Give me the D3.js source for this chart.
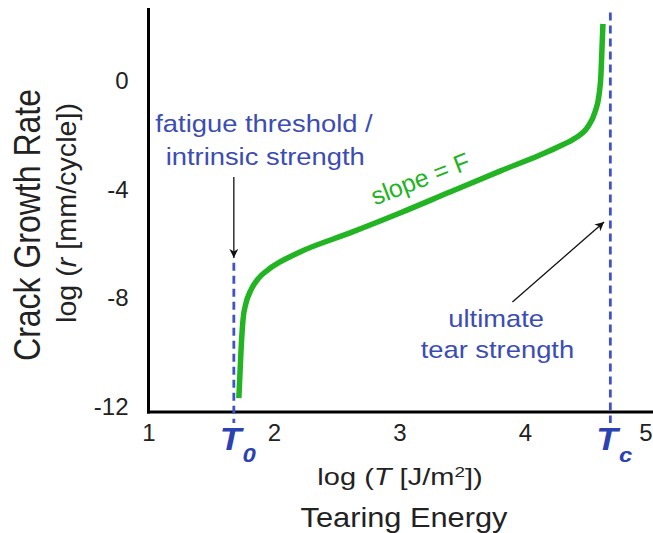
<!DOCTYPE html>
<html>
<head>
<meta charset="utf-8">
<script src="https://cdn.jsdelivr.net/npm/d3@7"></script>
<style>
  html, body { margin: 0; padding: 0; background: #fff; }
  svg { display: block; font-family: "Liberation Sans", Arial, sans-serif; }
</style>
</head>
<body>
<div id="chart"></div>
<script>
'use strict';

// tick values
var xTicks = [1, 2, 3, 4, 5];
var yTicks = [0, -4, -8, -12];

// crack growth curve (log T, log r)
var curveT = [1.720, 1.728, 1.737, 1.753, 1.777, 1.809, 1.873, 1.952, 2.048, 2.207, 2.606, 3.004, 3.402, 3.801,
              4.120, 4.279, 4.398, 4.494, 4.558, 4.590, 4.605, 4.613, 4.621];
var curveR = [-11.67, -10.85, -9.95, -8.80, -8.18, -7.77, -7.29, -6.96, -6.67, -6.30, -5.60, -4.87, -4.10, -3.33,
              -2.74, -2.41, -2.12, -1.75, -1.16, -0.53, 0.20, 1.12, 2.08];

// threshold markers
var markerNames = ['0', 'c'];
var markerT = [1.68, 4.68];
var markerTop = [-6.7, 2.5];

var width = 653,
    height = 533;

var SX = 1.14; // the source picture is stretched a bit sideways

var blue = '#3b4db5',
    dashBlue = '#3f52c6',
    green = '#22b422';

var xScale = d3.scaleLinear().domain([1, 5]).range([148.5, 650.5]);
var yScale = d3.scaleLinear().domain([-12, 0]).range([407, 80.5]);

var svg = d3.select('#chart')
  .append('svg')
  .attr('width', width)
  .attr('height', height);

svg.append('defs').append('marker')
  .attr('id', 'head')
  .attr('viewBox', '0 0 10 10')
  .attr('refX', 10)
  .attr('refY', 5)
  .attr('markerWidth', 9)
  .attr('markerHeight', 9)
  .attr('markerUnits', 'userSpaceOnUse')
  .attr('orient', 'auto')
  .append('path')
  .attr('d', 'M0,0 L10,5 L0,10 L3,5 Z')
  .attr('fill', '#111');

// helper for text, stretched like the source
function label(x, y, str, size, color, rotate) {
  var t = svg.append('text')
    .attr('transform', 'translate(' + x + ',' + y + ') scale(' + SX + ',1)' + (rotate ? ' rotate(' + rotate + ')' : ''))
    .attr('text-anchor', 'middle')
    .attr('font-size', size)
    .attr('fill', color);
  if (str !== null) t.text(str);
  return t;
}

// axis lines
var axisBottomY = 412;
svg.append('line')
  .attr('x1', xScale(1)).attr('x2', xScale(1))
  .attr('y1', 8).attr('y2', axisBottomY + 1.5)
  .attr('stroke', '#000').attr('stroke-width', 3);
svg.append('line')
  .attr('x1', xScale(1) - 1.5).attr('x2', width)
  .attr('y1', axisBottomY).attr('y2', axisBottomY)
  .attr('stroke', '#000').attr('stroke-width', 3);

// tick labels through d3 axes
var xAxis = d3.axisBottom(xScale).tickValues(xTicks).tickSize(0).tickPadding(10).tickFormat(d3.format('d'));
var gx = svg.append('g')
  .attr('class', 'x axis')
  .attr('transform', 'translate(0,' + (axisBottomY + 2) + ')')
  .call(xAxis);

// last label sits on the edge, keep it inside
gx.selectAll('.tick text')
  .attr('dx', function(d) { return d === 5 ? -5 : 0; });

var yAxis = d3.axisLeft(yScale).tickValues(yTicks).tickSize(0).tickPadding(20).tickFormat(function(d) { return d < 0 ? '-' + Math.abs(d) : d; });
var gy = svg.append('g')
  .attr('class', 'y axis')
  .attr('transform', 'translate(' + xScale(1) + ',0)')
  .call(yAxis);

svg.selectAll('.axis .domain').remove();
svg.selectAll('.axis text')
  .attr('font-size', 24)
  .attr('font-family', '"Liberation Sans", Arial, sans-serif')
  .attr('fill', '#222');

// dashed threshold lines
svg.selectAll('.marker')
  .data(markerT)
  .enter()
  .append('line')
  .attr('class', 'marker')
  .attr('x1', function(d) { return xScale(d); })
  .attr('x2', function(d) { return xScale(d); })
  .attr('y1', function(d, i) { return yScale(markerTop[i]); })
  .attr('y2', axisBottomY + 11)
  .attr('stroke', dashBlue)
  .attr('stroke-width', 2.8)
  .attr('stroke-dasharray', '8,5');

// the crack growth curve
var line = d3.line()
  .x(function(d) { return xScale(d[0]); })
  .y(function(d) { return yScale(d[1]); })
  .curve(d3.curveMonotoneX);

svg.append('path')
  .datum(d3.zip(curveT, curveR))
  .attr('d', line)
  .attr('fill', 'none')
  .attr('stroke', green)
  .attr('stroke-width', 5.5);

// arrows
svg.append('line')
  .attr('x1', xScale(1.68)).attr('y1', yScale(-3.55))
  .attr('x2', xScale(1.68)).attr('y2', yScale(-6.52))
  .attr('stroke', '#111').attr('stroke-width', 1.3)
  .attr('marker-end', 'url(#head)');
svg.append('line')
  .attr('x1', xScale(3.90)).attr('y1', yScale(-8.14))
  .attr('x2', xScale(4.63)).attr('y2', yScale(-5.20))
  .attr('stroke', '#111').attr('stroke-width', 1.3)
  .attr('marker-end', 'url(#head)');

// annotations
label(xScale(1.92), yScale(-1.89), 'fatigue threshold /', 24, blue);
label(xScale(1.93), yScale(-3.11), 'intrinsic strength', 24, blue);
label(xScale(3.77), yScale(-9.06), 'ultimate', 24, blue);
label(xScale(3.78), yScale(-10.2), 'tear strength', 24, blue);

svg.append('text')
  .attr('transform', 'translate(' + xScale(3.19) + ',' + yScale(-3.91) + ') rotate(-21)')
  .attr('text-anchor', 'middle')
  .attr('font-size', 25)
  .attr('fill', green)
  .text('slope = F');

// T0 and Tc
markerT.forEach(function(t, i) {
  var tl = label(xScale(t) + 4, axisBottomY + 38, null, 31, '#2c42b3');
  tl.attr('font-weight', 'bold').attr('font-style', 'italic');
  tl.append('tspan').text('T');
  tl.append('tspan').attr('font-size', 21).attr('dy', 12).attr('dx', 1).text(markerNames[i]);
});

// axis titles
var xt = label(400, 485, null, 23, '#222')
  .attr('textLength', 145)
  .attr('lengthAdjust', 'spacingAndGlyphs');
xt.append('tspan').text('log (');
xt.append('tspan').attr('font-style', 'italic').text('T');
xt.append('tspan').text('  [J/m');
xt.append('tspan').attr('font-size', 15).attr('dy', -8).text('2');
xt.append('tspan').attr('dy', 8).text('])');

label(404, 527, 'Tearing Energy', 27, '#222');

label(40, 225, 'Crack Growth Rate', 32, '#222', -90);

var yt = label(76, 213, null, 24, '#222', -90)
  .attr('textLength', 220)
  .attr('lengthAdjust', 'spacingAndGlyphs');
yt.append('tspan').text('log (');
yt.append('tspan').attr('font-style', 'italic').text('r');
yt.append('tspan').text('  [mm/cycle])');
</script>
</body>
</html>
